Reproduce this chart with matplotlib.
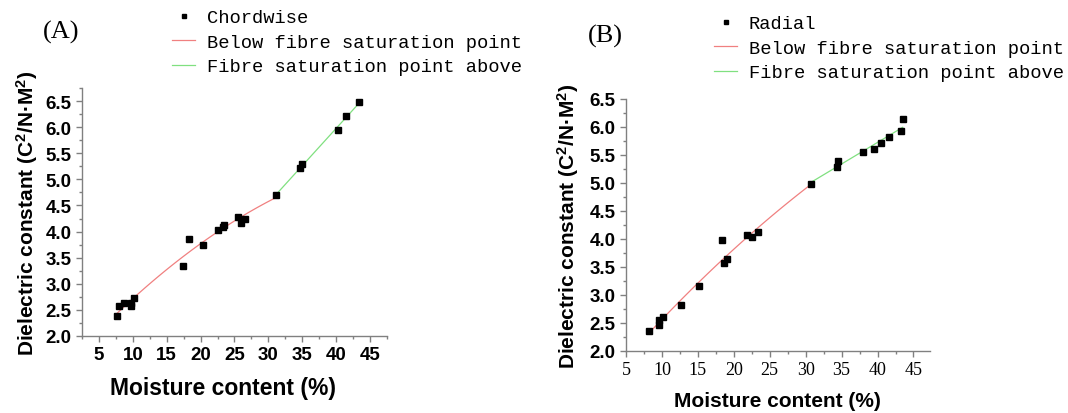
import numpy as np
import matplotlib
matplotlib.use("Agg")
import matplotlib.pyplot as plt
from matplotlib.ticker import MultipleLocator

plt.rcParams['mathtext.fontset'] = 'custom'
plt.rcParams['mathtext.rm'] = 'Liberation Sans:bold'
plt.rcParams['mathtext.bf'] = 'Liberation Sans:bold'
plt.rcParams['mathtext.default'] = 'bf'

# Panel A: chordwise
chord_x = [7.7, 8.0, 8.7, 9.7, 9.7, 10.1, 17.4, 18.3, 20.3, 22.5, 23.3, 23.4,
           25.5, 26.0, 26.5, 31.1, 34.7, 35.0, 40.3, 41.5, 43.4]
chord_y = [2.39, 2.57, 2.64, 2.57, 2.64, 2.72, 3.35, 3.86, 3.75, 4.03, 4.08, 4.13,
           4.27, 4.17, 4.24, 4.70, 5.22, 5.29, 5.95, 6.21, 6.49]

# Panel B: radial
radial_x = [8.2, 9.6, 9.6, 10.2, 12.7, 15.2, 18.3, 18.6, 19.0, 21.9, 22.6, 23.3,
            30.7, 34.3, 34.5, 38.0, 39.5, 40.5, 41.6, 43.2, 43.5]
radial_y = [2.35, 2.46, 2.56, 2.60, 2.82, 3.16, 3.98, 3.57, 3.65, 4.07, 4.03, 4.13,
            4.99, 5.29, 5.40, 5.55, 5.60, 5.71, 5.82, 5.93, 6.14]

fsp = 31.0  # fibre saturation point split (moisture %)
yticks = [2.0, 2.5, 3.0, 3.5, 4.0, 4.5, 5.0, 5.5, 6.0, 6.5]
xticks = [5, 10, 15, 20, 25, 30, 35, 40, 45]

fig = plt.figure(figsize=(10.68, 4.14), dpi=100)
W, H = 1068, 414

def add_ax(l, r, t, b):
    return fig.add_axes([l / W, 1 - b / H, (r - l) / W, (b - t) / H])

axA = add_ax(82, 387, 89, 337)
axB = add_ax(626, 930, 100, 352)

legend_font = {'family': 'Liberation Mono', 'size': 13.5}

def draw(ax, xs, ys, deg_below):
    xs = np.asarray(xs); ys = np.asarray(ys)
    lo = xs <= fsp + 0.5
    hi = xs >= fsp - 0.5
    c1 = np.polyfit(xs[lo], ys[lo], deg_below)
    xx1 = np.linspace(xs[lo].min(), xs[lo].max(), 100)
    c2 = np.polyfit(xs[hi], ys[hi], 1)
    xx2 = np.linspace(xs[hi].min(), xs[hi].max(), 100)
    h0, = ax.plot(xs, ys, 's', color='black', markersize=5, linestyle='none', zorder=3)
    h1, = ax.plot(xx1, np.polyval(c1, xx1), color='#f08080', lw=0.9)
    h2, = ax.plot(xx2, np.polyval(c2, xx2), color='#80e080', lw=0.9)
    for s in ['top', 'right']:
        ax.spines[s].set_visible(False)
    for s in ['left', 'bottom']:
        ax.spines[s].set_color('#808080')
        ax.spines[s].set_linewidth(1.0)
    ax.set_yticks(yticks)
    ax.set_xticks(xticks)
    ax.yaxis.set_minor_locator(MultipleLocator(0.25))
    ax.xaxis.set_minor_locator(MultipleLocator(2.5))
    ax.tick_params(which='major', length=4, color='#808080', width=1)
    ax.tick_params(which='minor', length=2.5, color='#808080', width=1)
    return [h0, h1, h2]

ylab = 'Dielectric constant (C$^2$/N·M$^2$)'

hA = draw(axA, chord_x, chord_y, 2)
axA.set_xlim(2.5, 47.5)
axA.set_ylim(2.0, 6.75)
axA.set_xticklabels([str(v) for v in xticks], fontfamily='Liberation Sans', fontweight='bold', fontsize=13.5)
axA.set_yticklabels([f'{v:.1f}' for v in yticks], fontfamily='Liberation Sans', fontweight='bold', fontsize=13.5)
axA.set_xlabel('Moisture content (%)', fontfamily='Liberation Sans', fontweight='bold', fontsize=16.5)
axA.xaxis.set_label_coords((223 - 82) / (387 - 82), -(389 - 337) / (337 - 89))
axA.xaxis.label.set_va('center')
axA.set_ylabel(ylab, fontfamily='Liberation Sans', fontweight='bold', fontsize=15)
axA.yaxis.set_label_coords(-(82 - 27) / (387 - 82), 0.5)
axA.yaxis.label.set_va('center')

hB = draw(axB, radial_x, radial_y, 2)
axB.set_xlim(5, 47.3)
axB.set_ylim(2.0, 6.5)
axB.set_xticklabels([str(v) for v in xticks], fontfamily='Liberation Serif', fontsize=13)
axB.set_yticklabels([f'{v:.1f}' for v in yticks], fontfamily='Liberation Sans', fontweight='bold', fontsize=13.5)
axB.set_xlabel('Moisture content (%)', fontfamily='Liberation Sans', fontweight='bold', fontsize=15)
axB.xaxis.set_label_coords((777 - 626) / (930 - 626), -(402 - 352) / (352 - 100))
axB.xaxis.label.set_va('center')
axB.set_ylabel(ylab, fontfamily='Liberation Sans', fontweight='bold', fontsize=15)
axB.yaxis.set_label_coords(-(626 - 568) / (930 - 626), 0.5)
axB.yaxis.label.set_va('center')

labelsA = ['Chordwise', 'Below fibre saturation point', 'Fibre saturation point above']
labelsB = ['Radial', 'Below fibre saturation point', 'Fibre saturation point above']

legA = fig.legend(hA, labelsA, loc='upper left', bbox_to_anchor=(172 / W, 1 - 10 / H), frameon=False,
                  prop=legend_font, handlelength=1.25, handletextpad=0.6, labelspacing=0.4,
                  borderpad=0, borderaxespad=0, markerscale=0.7)
legB = fig.legend(hB, labelsB, loc='upper left', bbox_to_anchor=(714 / W, 1 - 16 / H), frameon=False,
                  prop=legend_font, handlelength=1.25, handletextpad=0.6, labelspacing=0.4,
                  borderpad=0, borderaxespad=0, markerscale=0.7)

fig.text(43 / W, 1 - 32 / H, '(A)', fontfamily='Liberation Serif', fontsize=19, va='center', ha='left')
fig.text(588 / W, 1 - 36 / H, '(B)', fontfamily='Liberation Serif', fontsize=19, va='center', ha='left')

fig.savefig('out.png', dpi=100)
